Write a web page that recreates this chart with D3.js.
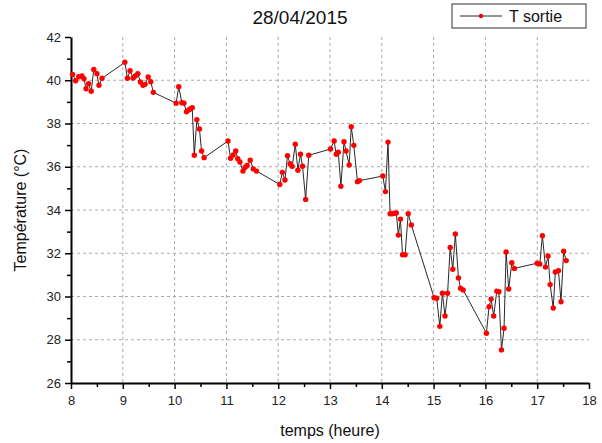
<!DOCTYPE html>
<html>
<head>
<meta charset="utf-8">
<script src="https://d3js.org/d3.v7.min.js"></script>
<style>
  body { margin: 0; background: #fff; }
  text { font-family: "Liberation Sans", Arial, sans-serif; }
</style>
</head>
<body>
<div id="chart"></div>
<script>
// Data: time (hours) and outlet temperature (°C)
var times = [
  8.03, 8.09, 8.15, 8.21, 8.25, 8.29, 8.34, 8.39, 8.44, 8.50, 8.54, 8.60,
  9.04, 9.09, 9.14, 9.20, 9.24, 9.29, 9.34, 9.39, 9.43, 9.49, 9.54, 9.59,
  10.03, 10.08, 10.14, 10.18, 10.23, 10.27, 10.30, 10.34, 10.38, 10.43, 10.48, 10.52, 10.57,
  11.03, 11.08, 11.13, 11.18, 11.22, 11.26, 11.32, 11.36, 11.40, 11.46, 11.52, 11.58,
  12.03, 12.08, 12.13, 12.18, 12.23, 12.27, 12.33, 12.38, 12.43, 12.47, 12.53, 12.59,
  13.01, 13.08, 13.12, 13.16, 13.21, 13.27, 13.31, 13.37, 13.41, 13.46, 13.53, 13.57,
  14.02, 14.07, 14.12, 14.16, 14.20, 14.24, 14.28, 14.32, 14.36, 14.40, 14.45, 14.51, 14.57,
  15.01, 15.06, 15.12, 15.17, 15.22, 15.27, 15.32, 15.37, 15.42, 15.48, 15.52, 15.57,
  16.02, 16.07, 16.11, 16.16, 16.22, 16.26, 16.31, 16.36, 16.40, 16.45, 16.51, 16.56,
  17.00, 17.05, 17.10, 17.16, 17.21, 17.25, 17.31, 17.35, 17.41, 17.46, 17.51, 17.56
];
var tSortie = [
  40.27, 39.98, 40.16, 40.20, 40.07, 39.61, 39.84, 39.49, 40.50, 40.30, 39.77, 40.09,
  40.83, 40.09, 40.44, 40.10, 40.20, 40.30, 39.92, 39.77, 39.81, 40.15, 39.93, 39.44,
  38.94, 39.70, 38.96, 38.94, 38.54, 38.62, 38.67, 38.73, 36.53, 38.18, 37.75, 36.73, 36.42,
  37.19, 36.39, 36.54, 36.73, 36.37, 36.22, 35.80, 35.97, 36.06, 36.30, 35.90, 35.80,
  35.18, 35.74, 35.39, 36.51, 36.14, 36.02, 37.04, 35.84, 36.58, 36.02, 34.49, 36.53,
  36.82, 37.19, 36.58, 36.67, 35.10, 37.16, 36.73, 36.08, 37.85, 36.99, 35.31, 35.36,
  35.57, 34.85, 37.14, 33.83, 33.83, 33.85, 33.86, 32.84, 33.58, 31.93, 31.93, 33.83, 33.31,
  29.94, 29.92, 28.62, 30.15, 29.10, 30.15, 32.27, 31.26, 32.89, 30.86, 30.38, 30.30,
  28.30, 29.53, 29.88, 29.10, 30.25, 30.22, 27.53, 28.53, 32.06, 30.35, 31.56, 31.30,
  31.54, 31.50, 32.81, 31.36, 31.87, 30.55, 29.47, 31.13, 31.19, 29.76, 32.09, 31.66
];
var xTicks = [8, 9, 10, 11, 12, 13, 14, 15, 16, 17, 18];
var yTicks = [26, 28, 30, 32, 34, 36, 38, 40, 42];
var chartTitle = "28/04/2015";
var seriesName = "T sortie";

var data = times.map(function(t, i) { return {t: t, v: tSortie[i]}; });

// Set the dimensions and margins of the graph
var margin = {top: 37, right: 13, bottom: 60, left: 71},
  width = 602 - margin.left - margin.right,
  height = 443 - margin.top - margin.bottom;

var svg = d3.select("#chart")
.append("svg")
  .attr("width", 602)
  .attr("height", 443)
.append("g")
  .attr("transform", "translate(" + margin.left + "," + margin.top + ")");

var x = d3.scaleLinear().domain([8, 18]).range([0, width]);
var y = d3.scaleLinear().domain([26, 42]).range([height, 0]);

// Grid lines (dashed grey)
svg.selectAll(".vgrid")
  .data(xTicks.slice(1, -1)).enter()
  .append("line")
    .attr("x1", function(d) { return x(d); })
    .attr("x2", function(d) { return x(d); })
    .attr("y1", 0)
    .attr("y2", height)
    .style("stroke", "#aaa")
    .style("stroke-dasharray", "3,3")
    .style("stroke-width", 1);

svg.selectAll(".hgrid")
  .data(yTicks.slice(1, -1)).enter()
  .append("line")
    .attr("x1", 0)
    .attr("x2", width)
    .attr("y1", function(d) { return y(d); })
    .attr("y2", function(d) { return y(d); })
    .style("stroke", "#aaa")
    .style("stroke-dasharray", "3,3")
    .style("stroke-width", 1);

// Minor ticks
var xMinor = d3.range(8.5, 18, 1);
var yMinor = d3.range(27, 42, 2);

svg.append("g")
  .attr("transform", "translate(0," + height + ")")
  .call(d3.axisBottom(x).tickValues(xMinor).tickSize(4).tickFormat(""))
  .call(function(g) { g.select(".domain").remove(); })
  .selectAll("line").style("stroke-width", 1.5);

svg.append("g")
  .call(d3.axisLeft(y).tickValues(yMinor).tickSize(4).tickFormat(""))
  .call(function(g) { g.select(".domain").remove(); })
  .selectAll("line").style("stroke-width", 1.5);

// Major axes
var xAxis = svg.append("g")
  .attr("transform", "translate(0," + height + ")")
  .call(d3.axisBottom(x).tickValues(xTicks).tickSize(6).tickSizeOuter(0).tickPadding(7));
var yAxis = svg.append("g")
  .call(d3.axisLeft(y).tickValues(yTicks).tickSize(6).tickSizeOuter(0).tickPadding(4));

[xAxis, yAxis].forEach(function(a) {
  a.select(".domain").style("stroke-width", 2);
  a.selectAll("line").style("stroke-width", 1.5);
  a.selectAll("text")
    .style("font-size", "13px")
    .style("fill", "#222");
});

// Line
svg.append("path")
  .datum(data)
  .attr("d", d3.line().x(function(d) { return x(d.t); }).y(function(d) { return y(d.v); }))
  .style("fill", "none")
  .style("stroke", "#111")
  .style("stroke-width", 0.9);

// Points
svg.selectAll(".pt")
  .data(data).enter()
  .append("circle")
    .attr("cx", function(d) { return x(d.t); })
    .attr("cy", function(d) { return y(d.v); })
    .attr("r", 2.7)
    .style("fill", "#ff0000");

// Title
svg.append("text")
  .attr("x", 300 - margin.left)
  .attr("y", 24 - margin.top)
  .style("text-anchor", "middle")
  .style("font-size", "19px")
  .style("fill", "#111")
  .text(chartTitle);

// Axis labels
svg.append("text")
  .attr("x", 330 - margin.left)
  .attr("y", 436 - margin.top)
  .style("text-anchor", "middle")
  .style("font-size", "16px")
  .style("fill", "#111")
  .text("temps (heure)");

svg.append("text")
  .attr("transform", "translate(" + (26 - margin.left) + "," + (210 - margin.top) + ") rotate(-90)")
  .style("text-anchor", "middle")
  .style("font-size", "16px")
  .style("fill", "#111")
  .text("Température (°C)");

// Legend
var legend = svg.append("g")
  .attr("transform", "translate(" + (452 - margin.left) + "," + (4 - margin.top) + ")");
legend.append("rect")
  .attr("width", 134)
  .attr("height", 24)
  .style("fill", "#fff")
  .style("stroke", "#333")
  .style("stroke-width", 1);
legend.append("line")
  .attr("x1", 8).attr("x2", 50)
  .attr("y1", 12).attr("y2", 12)
  .style("stroke", "#111")
  .style("stroke-width", 0.9);
legend.append("circle")
  .attr("cx", 29).attr("cy", 12).attr("r", 2.2)
  .style("fill", "#ff0000");
legend.append("text")
  .attr("x", 57).attr("y", 18)
  .style("font-size", "16px")
  .style("fill", "#111")
  .text(seriesName);
</script>
</body>
</html>
